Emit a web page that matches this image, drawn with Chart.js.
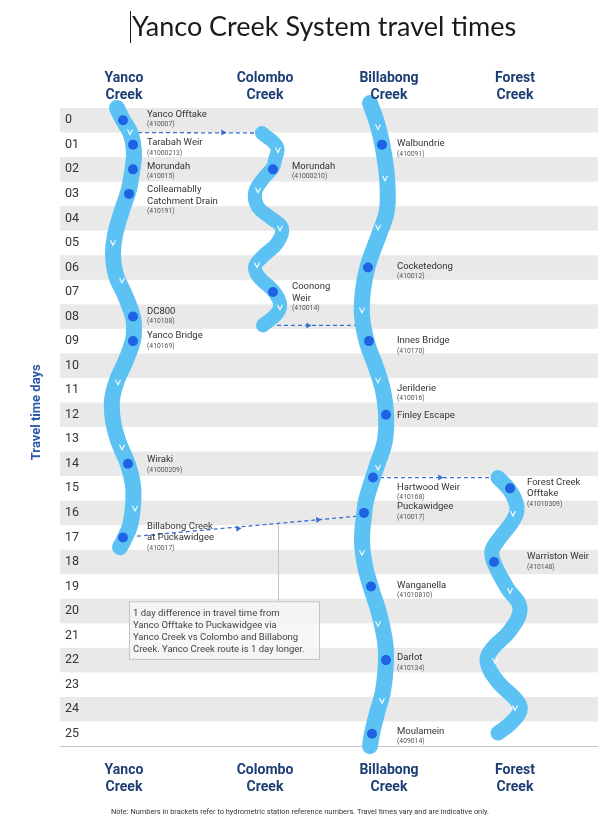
<!DOCTYPE html>
<html>
<head>
<meta charset="utf-8">
<script src="https://cdn.jsdelivr.net/npm/chart.js@4.4.1/dist/chart.umd.min.js"></script>
<style>
  html, body { margin: 0; padding: 0; background: #fff; }
  #wrap { width: 603px; height: 817px; position: relative; }
</style>
</head>
<body>
<div id="wrap"><canvas id="grafico" width="603" height="817"></canvas></div>
<script>
// Yanco Creek System travel times - esquema de recorridos por día

// filas (días de viaje)
const rowDays = [0,1,2,3,4,5,6,7,8,9,10,11,12,13,14,15,16,17,18,19,20,21,22,23,24,25];
const rowLabels = ['0','01','02','03','04','05','06','07','08','09','10','11','12','13','14','15','16','17','18','19','20','21','22','23','24','25'];

// columnas (posición horizontal de cada arroyo)
const creekTitles = [['Yanco','Creek'], ['Colombo','Creek'], ['Billabong','Creek'], ['Forest','Creek']];
const creekCentres = [124, 265, 389, 515];

// cauces: pares [posición, día]
const yancoPath = [[117,-0.5],[123,0],[130,0.48],[133,0.93],[134,1.42],[133,1.87],[131,2.36],[129,2.81],[122,3.67],[115,4.68],[113,5.5],[116,6.32],[125,7.13],[133,8.03],[134,8.56],[133,8.97],[126,9.78],[117,10.6],[112,11.4],[113,12.24],[118,13.05],[128,14.03],[133,14.88],[133,15.7],[130,16.52],[124,17.09],[120,17.4]];
const colomboPath = [[262,0.52],[277,1.09],[275,1.62],[273,1.91],[262,2.44],[255,2.97],[258,3.54],[270,3.95],[282,4.4],[277,5.01],[262,5.58],[255,5.99],[260,6.44],[273,6.93],[280,7.46],[277,7.87],[263,8.36]];
const billabongPath = [[370,-0.7],[377,0.11],[382,0.93],[387,2.32],[387,3.66],[380,4.56],[368,5.91],[363,6.93],[362,7.96],[367,9.06],[376,10.07],[383,11.01],[386,11.95],[385,13.05],[378,13.95],[373,14.56],[366,15.5],[364,16.11],[362,17.13],[365,18.15],[371,19.05],[379,20.07],[385,21.22],[386,22.03],[383,23.26],[377,24.16],[372,25],[370,25.5]];
const forestPath = [[498,14.56],[510,15.09],[517,15.78],[513,16.31],[500,17.01],[492,17.54],[494,18.03],[507,19.05],[520,19.87],[510,20.8],[493,21.5],[487,22.03],[497,22.84],[517,23.66],[520,24.07],[510,24.6],[498,24.97]];

// flechitas de sentido sobre los cauces
const chevrons = [[130,0.48],[113,4.99],[122,6.52],[118,10.68],[122,13.33],[135,15.82],
  [278,1.21],[258,2.85],[280,4.4],[257,5.9],[280,7.62],
  [378,0.27],[385,2.36],[378,4.36],[362,7.74],[378,10.6],[378,14.15],[362,17.62],[378,20.52],[382,23.66],
  [513,16.03],[510,19.17],[495,22.03],[515,23.95]];

// conexiones punteadas entre arroyos
const linkTop = [[138,0.5],[262,0.52]];
const linkColombo = [[263,8.36],[356,8.36]];
const linkForest = [[373,14.56],[498,14.56]];
const linkYanco = [[123,17.0],[364,16.11]];
const arrowPoints = [[223,0.5],[308,8.36],[440,14.56],[238,16.64],[318,16.28]];
const arrowAngles = [90, 90, 90, 84, 84];

// estaciones
const stationNames = [
  ['Yanco Offtake'], ['Tarabah Weir'], ['Morundah'], ['Colleamablly','Catchment Drain'], ['DC800'], ['Yanco Bridge'], ['Wiraki'], ['Billabong Creek','at Puckawidgee'],
  ['Morundah'], ['Coonong','Weir'],
  ['Walbundrie'], ['Cocketedong'], ['Innes Bridge'], ['Finley Escape'], ['Hartwood Weir'], ['Puckawidgee'], ['Wanganella'], ['Darlot'], ['Moulamein'],
  ['Forest Creek','Offtake'], ['Warriston Weir']
];
const stationCodes = ['(410007)','(41000213)','(410015)','(410191)','(410108)','(410169)','(41000209)','(410017)',
  '(41000210)','(410014)',
  '(410091)','(410012)','(410170)','','(410168)','(410017)','(41010810)','(410134)','(409014)',
  '(41010309)','(410148)'];
const stationDays = [0,1,2,3,8,9,14,17, 2,7, 1,6,9,12,14.56,16,19,22,25, 15,18];
const stationX = [123,133,133,129,133,133,128,123, 273,273, 382,368,369,386,373,364,371,386,372, 510,494];
const stationCreek = [0,0,0,0,0,0,0,0, 1,1, 2,2,2,2,2,2,2,2,2, 3,3];

// rótulo sin punto
const plainNames = [['Jerilderie']];
const plainCodes = ['(410016)'];
const plainDays = [11];
const plainCreek = [2];

const noteLines = [
  '1 day difference in travel time from',
  'Yanco Offtake to Puckawidgee via',
  'Yanco Creek vs Colombo and Billabong',
  'Creek. Yanco Creek route is 1 day longer.'
];
const noteBoxX = [129, 319];
const noteBoxDays = [19.6, 21.95];
const noteLinkX = 278;
const noteLinkDays = [16.46, 19.6];

const footNote = 'Note: Numbers in brackets refer to hydrometric station reference numbers. Travel times vary and are indicative only.';
const titulo = 'Yanco Creek System travel times';
const tituloEje = 'Travel time days';
const tituloEjeDia = 11.9;

// estilos
const FUENTE = 'Roboto, "Noto Sans", sans-serif';
const AZUL_CAUCE = '#5cc2f4';
const AZUL_PUNTO = '#1f62e4';
const AZUL_LINEA = '#3a6fd6';
const AZUL_TITULO = '#1d3e74';
const labelLeft = [147, 292, 397, 527];
const labelNudge = { 'Yanco Offtake': -6, 'Tarabah Weir': -2, 'Billabong Creek': -11, 'Hartwood Weir': 10, 'Walbundrie': -1, 'Cocketedong': -1, 'Innes Bridge': 0, 'Finley Escape': 1, 'Wanganella': -1, 'Darlot': -2, 'Moulamein': -2, 'Morundah': -3, 'Puckawidgee': -6, 'Forest Creek': -6, 'Warriston Weir': -5, 'Coonong': -5, 'DC800': -5, 'Yanco Bridge': -5, 'Jerilderie': -2 };

const aPuntos = (par) => par.map(p => ({ x: p[0], y: p[1] }));

const cauce = (datos, ancho) => ({
  type: 'line', data: aPuntos(datos), borderColor: AZUL_CAUCE, borderWidth: ancho,
  borderCapStyle: 'round', borderJoinStyle: 'round', tension: 0.4, pointRadius: 0, clip: false, order: 3
});
const enlace = (datos) => ({
  type: 'line', data: aPuntos(datos), borderColor: AZUL_LINEA, borderWidth: 1.3, borderDash: [4, 3],
  tension: 0, pointRadius: 0, order: 4
});

// franjas grises: se pintan antes que los ejes para no tapar los rótulos de días
const fondoFilas = {
  id: 'fondoFilas',
  beforeDraw(chart) {
    const { ctx, chartArea, scales: { y } } = chart;
    ctx.save();
    rowDays.forEach((d) => {
      if (d % 2 !== 0) return;
      const top = y.getPixelForValue(d - 0.5);
      const bot = y.getPixelForValue(d + 0.5);
      ctx.fillStyle = '#e9e9e9';
      ctx.fillRect(chartArea.left, top, chartArea.right - chartArea.left, bot - top);
    });
    ctx.strokeStyle = '#c4c4c4';
    ctx.lineWidth = 1;
    ctx.beginPath();
    ctx.moveTo(chartArea.left, chartArea.bottom + 0.5);
    ctx.lineTo(chartArea.right, chartArea.bottom + 0.5);
    ctx.stroke();
    ctx.restore();
  }
};

const rotulos = {
  id: 'rotulos',
  afterDatasetsDraw(chart) {
    const { ctx, chartArea, scales: { x, y } } = chart;
    ctx.save();
    // flechitas blancas
    ctx.strokeStyle = '#ffffff';
    ctx.lineWidth = 1.1;
    chevrons.forEach((c) => {
      const px = x.getPixelForValue(c[0]);
      const py = y.getPixelForValue(c[1]);
      ctx.beginPath();
      ctx.moveTo(px - 2.5, py - 2.5);
      ctx.lineTo(px, py + 2.5);
      ctx.lineTo(px + 2.5, py - 2.5);
      ctx.stroke();
    });

    const escribir = (nombre, codigo, dia, col) => {
      const px = x.getPixelForValue(labelLeft[col]);
      let py = y.getPixelForValue(dia) + (labelNudge[nombre[0]] !== undefined ? labelNudge[nombre[0]] : -4);
      ctx.textAlign = 'left';
      ctx.textBaseline = 'middle';
      ctx.fillStyle = '#333';
      ctx.font = '9.5px ' + FUENTE;
      nombre.forEach((linea, i) => {
        ctx.fillText(linea, px, py);
        if (i < nombre.length - 1) py += 11.5;
      });
      if (codigo) {
        ctx.fillStyle = '#555';
        ctx.font = '6.8px ' + FUENTE;
        ctx.fillText(codigo, px, py + 10);
      }
    };
    stationNames.forEach((n, i) => escribir(n, stationCodes[i], stationDays[i], stationCreek[i]));
    plainNames.forEach((n, i) => escribir(n, plainCodes[i], plainDays[i], plainCreek[i]));

    // nota aclaratoria
    const bx0 = x.getPixelForValue(noteBoxX[0]);
    const bx1 = x.getPixelForValue(noteBoxX[1]);
    const by0 = y.getPixelForValue(noteBoxDays[0]);
    const by1 = y.getPixelForValue(noteBoxDays[1]);
    ctx.strokeStyle = '#c4c4c4';
    ctx.lineWidth = 1;
    ctx.beginPath();
    ctx.moveTo(x.getPixelForValue(noteLinkX) + 0.5, y.getPixelForValue(noteLinkDays[0]));
    ctx.lineTo(x.getPixelForValue(noteLinkX) + 0.5, y.getPixelForValue(noteLinkDays[1]));
    ctx.stroke();
    ctx.fillStyle = 'rgba(246,246,246,0.85)';
    ctx.fillRect(bx0, by0, bx1 - bx0, by1 - by0);
    ctx.strokeRect(bx0 + 0.5, by0 + 0.5, bx1 - bx0, by1 - by0);
    ctx.fillStyle = '#444';
    ctx.font = '9.5px ' + FUENTE;
    ctx.textBaseline = 'middle';
    noteLines.forEach((l, i) => ctx.fillText(l, bx0 + 4, by0 + 12 + i * 12));

    // encabezados de columnas arriba y abajo
    ctx.fillStyle = AZUL_TITULO;
    ctx.font = 'bold 14px ' + FUENTE;
    ctx.textAlign = 'center';
    creekTitles.forEach((t, i) => {
      const cx = x.getPixelForValue(creekCentres[i]);
      t.forEach((linea, j) => {
        ctx.fillText(linea, cx, chartArea.top - 30 + j * 17);
        ctx.fillText(linea, cx, chartArea.bottom + 24 + j * 17);
      });
    });

    // título del eje vertical
    ctx.save();
    ctx.translate(37, y.getPixelForValue(tituloEjeDia));
    ctx.rotate(-Math.PI / 2);
    ctx.fillStyle = '#2a5aa8';
    ctx.font = 'bold 13px ' + FUENTE;
    ctx.fillText(tituloEje, 0, 0);
    ctx.restore();

    // título y nota al pie
    ctx.fillStyle = '#1a1a1a';
    ctx.font = '27px Lato, ' + FUENTE;
    ctx.fillText(titulo, 324, 27);
    const w = ctx.measureText(titulo).width;
    ctx.fillRect(Math.round(324 - w / 2) - 2, 11, 1, 32);
    ctx.fillStyle = '#333';
    ctx.font = '7.4px ' + FUENTE;
    ctx.fillText(footNote, 300, 812);
    ctx.restore();
  }
};

new Chart(document.getElementById('grafico'), {
  type: 'scatter',
  data: {
    datasets: [
      {
        data: stationX.map((v, i) => ({ x: v, y: stationDays[i] })),
        backgroundColor: AZUL_PUNTO, borderWidth: 0, pointRadius: 5, order: 0
      },
      {
        data: aPuntos(arrowPoints), pointStyle: 'triangle', rotation: arrowAngles,
        backgroundColor: AZUL_LINEA, borderColor: AZUL_LINEA, borderWidth: 0, pointRadius: 3.5, order: 1
      },
      cauce(yancoPath, 16), cauce(colomboPath, 14), cauce(billabongPath, 16), cauce(forestPath, 15),
      enlace(linkTop), enlace(linkColombo), enlace(linkForest), enlace(linkYanco)
    ]
  },
  options: {
    responsive: false,
    animation: false,
    layout: { padding: { top: 108, left: 29, right: 5, bottom: 71 } },
    plugins: { legend: { display: false }, tooltip: { enabled: false } },
    scales: {
      x: { type: 'linear', min: 60, max: 598, display: false },
      y: {
        type: 'linear', min: -0.5, max: 25.5, reverse: true,
        afterBuildTicks: (axis) => { axis.ticks = rowDays.map(v => ({ value: v })); },
        afterFit: (axis) => { axis.width = 31; },
        grid: { display: false, drawTicks: false },
        border: { display: false },
        ticks: {
          mirror: true, padding: 5, autoSkip: false, color: '#333', font: { size: 12.5, family: FUENTE },
          callback: (v) => rowLabels[rowDays.indexOf(v)]
        }
      }
    }
  },
  plugins: [fondoFilas, rotulos]
});
</script>
</body>
</html>
